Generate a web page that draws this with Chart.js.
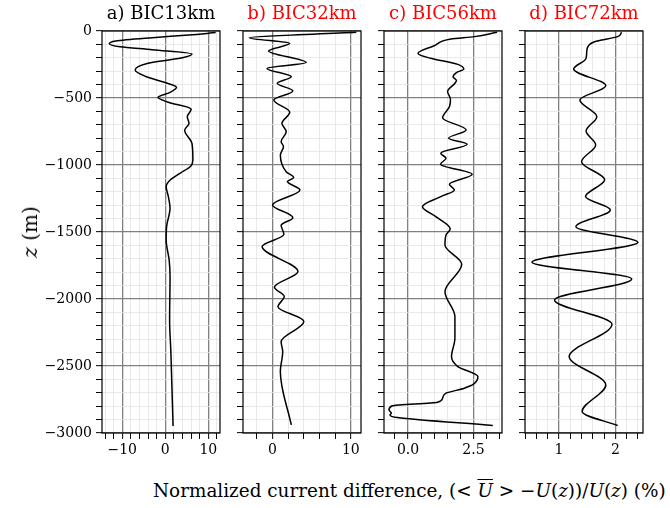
<!DOCTYPE html>
<html lang="en">
<head>
  <meta charset="UTF-8">
  <title>Normalized current difference profiles</title>
  <script src="https://cdn.jsdelivr.net/npm/chart.js"></script>
  <style>
    body { margin: 0; background: #fff; }
    #wrap { position: relative; width: 670px; height: 508px; overflow: hidden; }
    #wrap canvas { position: absolute; top: 0; }
    .lbl { position: absolute; font-family: "DejaVu Serif", serif; color: #000; white-space: nowrap; }
    .ov { text-decoration: overline; }
  </style>
</head>
<body>
<div id="wrap">
  <canvas id="pa" width="226" height="470" style="left:0px"></canvas>
  <canvas id="pb" width="132" height="470" style="left:235px"></canvas>
  <canvas id="pc" width="132" height="470" style="left:376px"></canvas>
  <canvas id="pd" width="132" height="470" style="left:517px"></canvas>
  <div class="lbl" id="ylab" style="font-size:20px; left:30px; top:232px; transform: translate(-50%,-50%) rotate(-90deg);"><i>z</i> (m)</div>
  <div class="lbl" id="xlab" style="font-size:18.4px; left:153px; top:480px;">Normalized current difference, (&lt; <i class="ov">U</i> &gt; &minus;<i>U</i>(<i>z</i>))/<i>U</i>(<i>z</i>) (%)</div>
</div>

<script>
  // depth (m) and normalized difference (%)
  const depthA = [-12, -30, -50, -75, -95, -118, -140, -172, -200, -240, -291, -340, -390, -420, -460, -495, -530, -584, -639, -690, -740, -840, -962, -1010, -1060, -1110, -1160, -1235, -1320, -1460, -1560, -1710, -1830, -2156, -2400, -2948];
  const valueA = [11.7, 5.5, -3, -11.5, -13, -10.5, -3, 6.2, 4, -4, -7, -4.5, 0.5, 2.6, 1, -1.7, 0.5, 6.0, 5.1, 5.5, 4.5, 6.2, 6.4, 5.9, 3.5, 1.2, 0.2, 0.7, 1.1, 0.3, 0.2, 0.9, 1.1, 1.0, 1.3, 1.8];

  const depthB = [-10, -50, -92, -149, -236, -279, -341, -390, -448, -515, -607, -689, -751, -826, -863, -925, -1050, -1094, -1124, -1186, -1298, -1393, -1450, -1517, -1609, -1795, -1912, -1982, -2057, -2168, -2318, -2393, -2542, -2940];
  const valueB = [10.7, -2.95, 2.2, -0.5, 4.3, -0.7, 2.4, 0.6, 2.6, 0.17, 2.2, 1.2, 1.75, 1.1, 1.4, 1.0, 1.75, 2.7, 1.9, 3.5, 0.0, 2.6, 1.1, 1.45, -1.33, 3.25, 0.25, 1.5, 0.7, 4.0, 1.1, 1.3, 1.0, 2.4];

  const depthC = [-10, -42, -60, -110, -167, -204, -249, -284, -310, -341, -370, -390, -452, -510, -565, -647, -739, -800, -845, -912, -950, -994, -1069, -1144, -1186, -1236, -1311, -1385, -1477, -1522, -1597, -1741, -1945, -2131, -2293, -2430, -2504, -2579, -2636, -2666, -2703, -2740, -2770, -2797, -2827, -2852, -2865, -2885, -2944];
  const valueC = [3.40, 2.54, 1.64, 1.0, 0.38, 0.87, 1.9, 2.13, 1.85, 1.72, 1.85, 1.79, 1.51, 1.62, 1.58, 1.32, 2.22, 1.55, 2.26, 1.25, 1.45, 1.24, 2.45, 1.58, 1.77, 1.25, 0.55, 1.06, 1.61, 1.45, 1.41, 2.05, 1.41, 1.79, 1.79, 1.66, 1.9, 2.67, 2.5, 2.15, 1.45, 1.32, 1.13, -0.6, -0.73, -0.64, -0.69, -0.41, 3.24];

  const depthD = [-10, -42, -80, -129, -204, -284, -408, -515, -639, -746, -850, -975, -1111, -1236, -1335, -1460, -1577, -1726, -1850, -2007, -2188, -2430, -2641, -2840, -2944];
  const valueD = [2.11, 2.04, 1.63, 1.50, 1.48, 1.26, 1.83, 1.37, 1.67, 1.48, 1.65, 1.40, 1.81, 1.47, 1.91, 1.30, 2.40, 0.52, 2.29, 0.92, 1.94, 1.18, 1.83, 1.41, 2.04];

  const titles = ["a) BIC13km", "b) BIC32km", "c) BIC56km", "d) BIC72km"];
  const titleColors = ["#000000", "#ff0000", "#ff0000", "#ff0000"];

  // major (labelled) ticks of each x axis, and the depth ticks
  const majorTicksA = [-10, 0, 10];
  const majorTicksB = [0, 10];
  const majorTicksC = [0, 2.5];
  const majorTicksD = [1, 2];
  const depthMajorStep = 500;

  const near = (v, list) => list.some(m => Math.abs(v - m) < 1e-6);
  const fmt = (v, dec) => v.toFixed(dec).replace("-", "\u2212");

  const framePlugin = {
    id: "frame",
    afterDraw(chart) {
      const { ctx, chartArea: a } = chart;
      ctx.save();
      ctx.strokeStyle = "#000";
      ctx.lineWidth = 1.2;
      ctx.strokeRect(a.left, a.top, a.right - a.left, a.bottom - a.top);
      ctx.restore();
    }
  };

  function panel(id, idx, depth, values, xMin, xMax, minorStep, majors, dec, yAxisWidth) {
    const yLabels = yAxisWidth > 20;
    return new Chart(document.getElementById(id), {
      type: "line",
      data: {
        datasets: [{
          data: depth.map((z, i) => ({ x: values[i], y: z })),
          borderColor: "#000",
          borderWidth: 1.5,
          pointRadius: 0,
          fill: false,
          cubicInterpolationMode: "monotone"
        }]
      },
      options: {
        indexAxis: "y",
        responsive: false,
        animation: false,
        devicePixelRatio: 1,
        layout: { padding: { left: 0, right: 6, top: 0, bottom: 0 } },
        plugins: {
          legend: { display: false },
          tooltip: { enabled: false },
          title: {
            display: true,
            text: titles[idx],
            color: titleColors[idx],
            fullSize: false,
            font: { family: "DejaVu Serif", size: 18, weight: "normal", lineHeight: 1.2 },
            padding: { top: 4, bottom: 5.4 }
          }
        },
        scales: {
          x: {
            type: "linear",
            position: "bottom",
            min: xMin,
            max: xMax,
            afterFit: s => { s.height = 37; },
            border: { display: false },
            grid: {
              color: c => near(c.tick.value, majors) ? "#808080" : "#e3e3e3",
              lineWidth: c => near(c.tick.value, majors) ? 1.3 : 0.8,
              tickColor: "#000",
              tickWidth: 1,
              tickLength: 6
            },
            ticks: {
              stepSize: minorStep,
              includeBounds: false,
              autoSkip: false,
              maxRotation: 0,
              maxTicksLimit: 200,
              padding: 3,
              color: "#000",
              font: { family: "DejaVu Serif", size: 14 },
              callback: v => near(v, majors) ? fmt(v, dec) : ""
            }
          },
          y: {
            type: "linear",
            position: "left",
            min: -3000,
            max: 0,
            afterFit: s => { s.width = yAxisWidth; },
            border: { display: false },
            grid: {
              color: c => c.tick.value % depthMajorStep === 0 ? "#808080" : "#e3e3e3",
              lineWidth: c => c.tick.value % depthMajorStep === 0 ? 1.3 : 0.8,
              tickColor: "#000",
              tickWidth: 1,
              tickLength: 6
            },
            ticks: {
              stepSize: 100,
              autoSkip: false,
              maxTicksLimit: 200,
              padding: 4,
              color: "#000",
              font: { family: "DejaVu Serif", size: 14 },
              callback: v => (yLabels && v % depthMajorStep === 0) ? fmt(v, 0) : ""
            }
          }
        }
      },
      plugins: [framePlugin]
    });
  }

  panel("pa", 0, depthA, valueA, -14.7, 12.7, 2, majorTicksA, 0, 102);
  panel("pb", 1, depthB, valueB, -3.77, 11.3, 2, majorTicksB, 0, 8);
  panel("pc", 2, depthC, valueC, -0.92, 3.59, 0.5, majorTicksC, 1, 8);
  panel("pd", 3, depthD, valueD, 0.396, 2.49, 0.2, majorTicksD, 0, 8);
</script>
</body>
</html>
